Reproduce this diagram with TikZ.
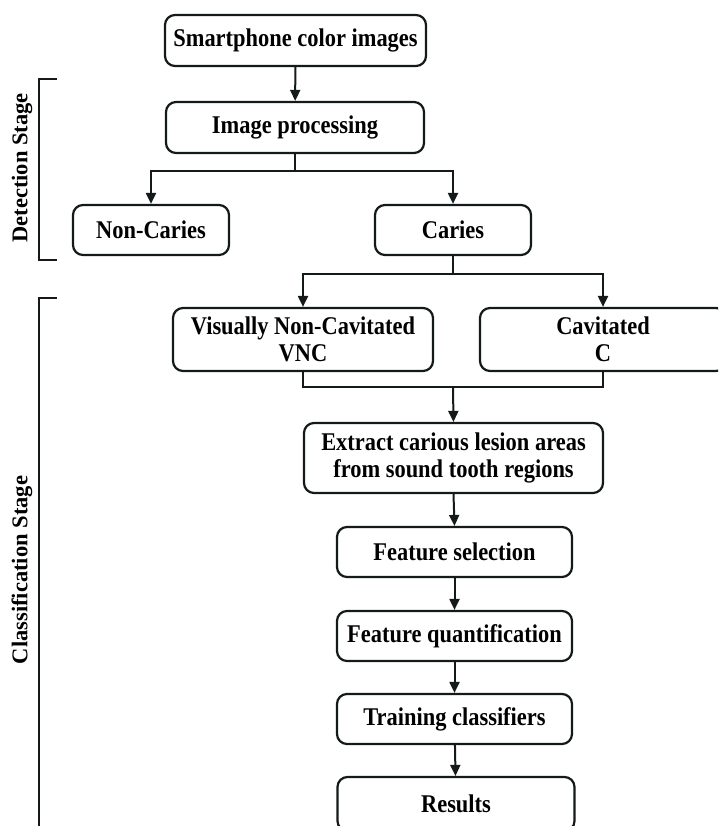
\documentclass[tikz,border=0pt]{standalone}
\usepackage{fontspec}
\setmainfont{Liberation Serif}
\newfontfamily\boxfont[FakeStretch=0.88]{Liberation Serif}
\usetikzlibrary{arrows.meta}
\definecolor{ink}{rgb}{0.08,0.10,0.10}
\tikzset{
  box/.style={draw=ink, line width=2.2pt, rounded corners=10pt, rectangle,
    align=center, inner sep=0pt, text=black,
    font=\boxfont\fontsize{25.5}{27}\selectfont\bfseries},
  conn/.style={draw=ink, line width=2pt},
  arr/.style={conn, -{Triangle[length=11pt,width=10pt]}},
  brk/.style={draw=ink, line width=2pt},
  stage/.style={rotate=90, text=black, inner sep=0pt,
    font=\fontsize{22.5}{27}\selectfont\bfseries}
}
\begin{document}
\begin{tikzpicture}[x=1pt,y=-1pt]
\useasboundingbox (0,0) rectangle (718,826);
\clip (0,0) rectangle (718,826);
\fill[white] (0,0) rectangle (718,826);

% nodes
\node[box, minimum width=261pt, minimum height=51pt] (smart) at (295.5,40.5) {Smartphone color images};
\node[box, minimum width=258pt, minimum height=51pt] (proc) at (295,127.5) {Image processing};
\node[box, minimum width=156pt, minimum height=50pt] (noncar) at (151,230) {Non-Caries};
\node[box, minimum width=156pt, minimum height=50pt] (caries) at (453,230) {Caries};
\node[box, minimum width=260pt, minimum height=63pt] (vnc) at (303,339.5) {Visually Non-Cavitated\\VNC};
\node[box, minimum width=246pt, minimum height=63pt] (cav) at (603,339.5) {Cavitated\\C};
\node[box, minimum width=299pt, minimum height=70pt] (extract) at (453.5,458) {Extract carious lesion areas\\from sound tooth regions};
\node[box, minimum width=235pt, minimum height=50pt] (fsel) at (454.5,552) {Feature selection};
\node[box, minimum width=235pt, minimum height=50pt] (fq) at (454.5,636) {Feature quantification};
\node[box, minimum width=235pt, minimum height=50pt] (train) at (454.5,719) {Training classifiers};
\node[box, minimum width=237pt, minimum height=54pt] (res) at (456,804) {Results};

% connectors
\draw[arr] (smart) -- (proc);
\coordinate (b1) at (295,171);
\draw[conn] (proc.south) -- (b1);
\draw[arr] (b1) -| (noncar.north);
\draw[arr] (b1) -| (caries.north);
\coordinate (b2) at (453,274);
\draw[conn] (caries.south) -- (b2);
\draw[arr] (b2) -| (vnc.north);
\draw[arr] (b2) -| (cav.north);
\coordinate (m) at (453,387);
\draw[conn] (vnc.south) |- (m) -| (cav.south);
\draw[arr] (m) -- (extract.north);
\draw[arr] (extract.south) -- (fsel.north);
\draw[arr] (fsel) -- (fq);
\draw[arr] (fq) -- (train);
\draw[arr] (train) -- (res);

% stage brackets
\draw[brk] (57,79) -- (39,79) -- (39,260) -- (57,260);
\draw[brk] (57,298) -- (39,298) -- (39,830);
\node[stage] (det) at (22,168) {Detection Stage};
\node[stage] (cls) at (22,570) {Classification Stage};
\end{tikzpicture}
\end{document}
